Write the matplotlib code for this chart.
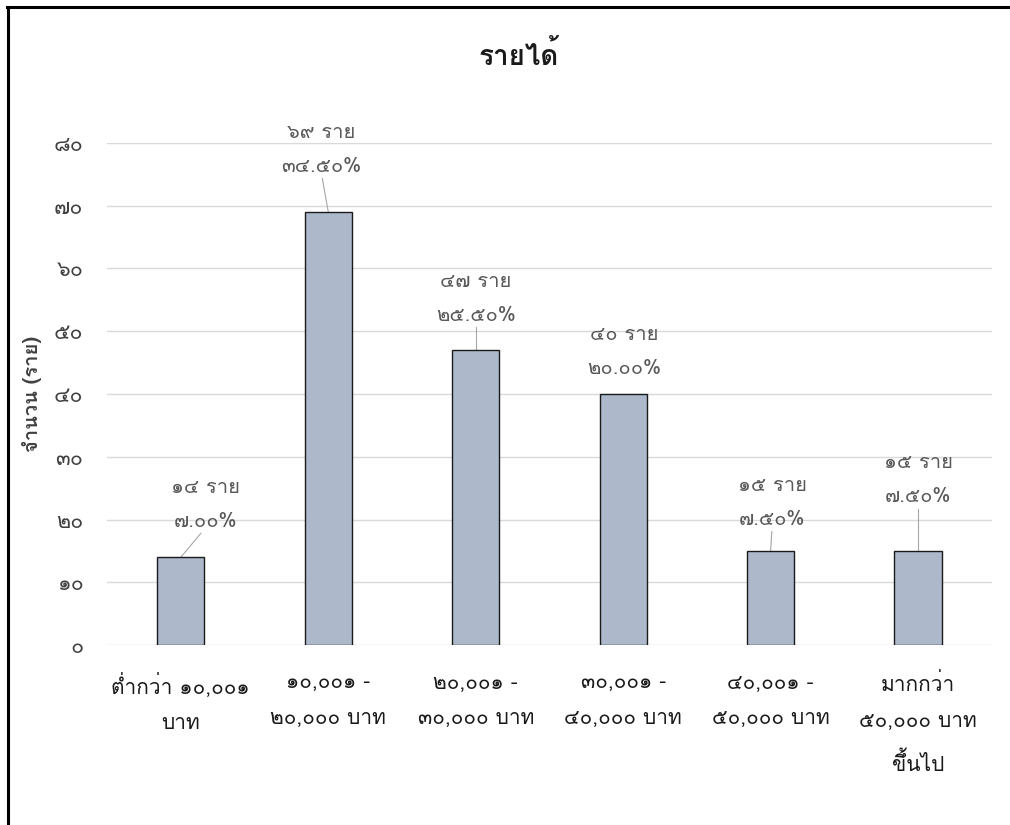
import matplotlib
matplotlib.use("Agg")
import matplotlib.pyplot as plt
from matplotlib import font_manager
from matplotlib.ft2font import FT2Font
from matplotlib.lines import Line2D


def find_thai_font():
    # look for any installed family that actually has Thai glyphs
    names = []
    for f in font_manager.fontManager.ttflist:
        try:
            cmap = FT2Font(f.fname).get_charmap()
        except Exception:
            continue
        if ord("ร") in cmap and ord("๑") in cmap:
            names.append(f.name)
    return names


thai_fonts = find_thai_font()
family = (thai_fonts[:1] if thai_fonts else []) + ["DejaVu Sans"]
plt.rcParams["font.family"] = family

THAI_DIGITS = "๐๑๒๓๔๕๖๗๘๙"


def to_thai(s):
    return "".join(THAI_DIGITS[int(c)] if c.isdigit() else c for c in str(s))


categories = [
    "ต่ำกว่า ๑๐,๐๐๑\nบาท",
    "๑๐,๐๐๑ -\n๒๐,๐๐๐ บาท",
    "๒๐,๐๐๑ -\n๓๐,๐๐๐ บาท",
    "๓๐,๐๐๑ -\n๔๐,๐๐๐ บาท",
    "๔๐,๐๐๑ -\n๕๐,๐๐๐ บาท",
    "มากกว่า\n๕๐,๐๐๐ บาท\nขึ้นไป",
]
counts = [14, 69, 47, 40, 15, 15]
percent_labels = ["7.00%", "34.50%", "25.50%", "20.00%", "7.50%", "7.50%"]
y_ticks = [0, 10, 20, 30, 40, 50, 60, 70, 80]

# where excel dragged the data labels to (centre of label block, data units)
label_dx = [0.17, -0.05, 0.0, 0.01, 0.01, 0.0]
label_y = [22.4, 78.9, 55.2, 46.7, 22.7, 26.3]

fig = plt.figure(figsize=(10.1, 8.25), dpi=100)
ax = fig.add_axes([0.106, 0.218, 0.876, 0.609])

x = list(range(len(counts)))
ax.bar(x, counts, width=0.32, color="#ADB9CA", edgecolor="#1a1a1a",
       linewidth=1.0, zorder=3)

for i, v in enumerate(counts):
    text = to_thai(v) + " ราย\n" + to_thai(percent_labels[i])
    ax.text(i + label_dx[i], label_y[i], text, ha="center", va="center",
            multialignment="center", fontsize=14.5, color="#595959",
            linespacing=2.0, zorder=4)
    end = label_y[i] - 4.6
    if end > v + 2.5:
        ax.plot([i, i + label_dx[i] * 0.8], [v, end], color="#A6A6A6",
                linewidth=0.8, zorder=2)

ax.set_xlim(-0.5, len(counts) - 0.5)
ax.set_ylim(0, 80)
ax.set_yticks(y_ticks)
ax.set_yticklabels([to_thai(t) for t in y_ticks], fontsize=15.5, color="#404040")
ax.set_xticks(x)
ax.set_xticklabels(categories, fontsize=15, color="#1a1a1a", linespacing=2.1)
ax.tick_params(axis="both", length=0)
ax.tick_params(axis="y", pad=17)
ax.tick_params(axis="x", pad=20)
ax.grid(axis="y", color="#D9D9D9", linewidth=1.0, zorder=0)
for s in ax.spines.values():
    s.set_visible(False)

ax.set_ylabel("จำนวน (ราย)", fontsize=14.5, fontweight="bold", color="#404040")
ax.yaxis.set_label_coords(-0.074, 0.5)
fig.text(0.514, 0.933, "รายได้", ha="center", va="center", fontsize=20,
         fontweight="bold", color="#1a1a1a")

# partial frame (left and top edge) like the screenshot crop
fig.add_artist(Line2D([0.0075, 0.0075], [0, 0.9915], transform=fig.transFigure,
                      color="black", linewidth=2.2))
fig.add_artist(Line2D([0.0065, 1.0], [0.9915, 0.9915], transform=fig.transFigure,
                      color="black", linewidth=2.2))

fig.savefig("out.png", dpi=100, facecolor="white")
